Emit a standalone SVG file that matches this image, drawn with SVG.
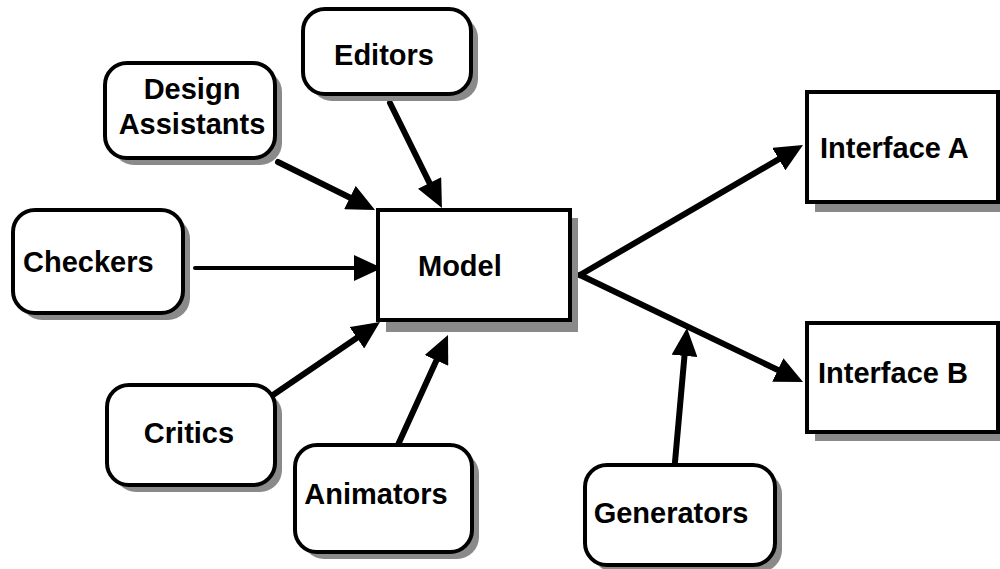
<svg xmlns="http://www.w3.org/2000/svg" width="1000" height="569" viewBox="0 0 1000 569">
<style>
.box{fill:#fff;stroke:#000;stroke-width:4}
.sh{fill:#8a8a8a}
.t{font-family:"Liberation Sans",Arial,sans-serif;font-weight:bold;font-size:29px;fill:#000}
.c{text-anchor:middle}
.ln{stroke:#000;stroke-width:6;fill:none;stroke-linecap:round}
</style>
<defs>
<marker id="ah" markerUnits="userSpaceOnUse" markerWidth="28" markerHeight="26" viewBox="0 0 28 26" refX="6" refY="13" orient="auto">
<path d="M0,0 L28,13 L0,26 Z" fill="#000"/>
</marker>
</defs>
<rect width="1000" height="569" fill="#fff"/>
<g id="connectors">
<line class="ln" x1="278" y1="162" x2="355.3" y2="200.2" marker-end="url(#ah)"/>
<line class="ln" x1="390" y1="103" x2="432.2" y2="188.3" marker-end="url(#ah)"/>
<line class="ln" x1="195" y1="268" x2="360" y2="268" style="stroke-width:4" marker-end="url(#ah)"/>
<line class="ln" x1="273" y1="395" x2="361.8" y2="334.4" marker-end="url(#ah)"/>
<line class="ln" x1="397" y1="447" x2="438.9" y2="355" marker-end="url(#ah)"/>
<line class="ln" x1="580" y1="275" x2="784" y2="156.1" marker-end="url(#ah)"/>
<line class="ln" x1="580" y1="275" x2="783.2" y2="372.5" marker-end="url(#ah)"/>
<line class="ln" x1="675" y1="462" x2="685" y2="349.9" marker-end="url(#ah)"/>
</g>
<g id="editors">
<rect class="sh" x="310" y="16" width="168" height="85" rx="22"/>
<rect class="box" x="303" y="9" width="168" height="85" rx="22"/>
<text class="t c" x="384" y="65">Editors</text>
</g>
<g id="design-assistants">
<rect class="sh" x="112" y="70" width="170" height="95" rx="22"/>
<rect class="box" x="105" y="63" width="170" height="95" rx="22"/>
<text class="t c" x="192" y="99">Design</text>
<text class="t c" x="192" y="134">Assistants</text>
</g>
<g id="checkers">
<rect class="sh" x="20" y="217" width="170" height="103" rx="22"/>
<rect class="box" x="13" y="210" width="170" height="103" rx="22"/>
<text class="t" x="23" y="272">Checkers</text>
</g>
<g id="critics">
<rect class="sh" x="114" y="392" width="168" height="100" rx="22"/>
<rect class="box" x="107" y="385" width="168" height="100" rx="22"/>
<text class="t c" x="189" y="443">Critics</text>
</g>
<g id="animators">
<rect class="sh" x="302" y="452" width="177" height="107" rx="22"/>
<rect class="box" x="295" y="445" width="177" height="107" rx="22"/>
<text class="t c" x="376" y="504">Animators</text>
</g>
<g id="generators">
<rect class="sh" x="592" y="472" width="190" height="100" rx="22"/>
<rect class="box" x="585" y="465" width="190" height="100" rx="22"/>
<text class="t c" x="671" y="523">Generators</text>
</g>
<g id="model">
<rect class="sh" x="386" y="218" width="192" height="114"/>
<rect class="box" x="378" y="210" width="192" height="110"/>
<text class="t" x="418" y="276">Model</text>
</g>
<g id="interface-a">
<rect class="sh" x="815" y="100" width="191" height="112"/>
<rect class="box" x="807" y="92" width="191" height="110"/>
<text class="t" x="820" y="158">Interface A</text>
</g>
<g id="interface-b">
<rect class="sh" x="815" y="331" width="191" height="110"/>
<rect class="box" x="807" y="323" width="191" height="109"/>
<text class="t" x="818" y="383">Interface B</text>
</g>
</svg>
